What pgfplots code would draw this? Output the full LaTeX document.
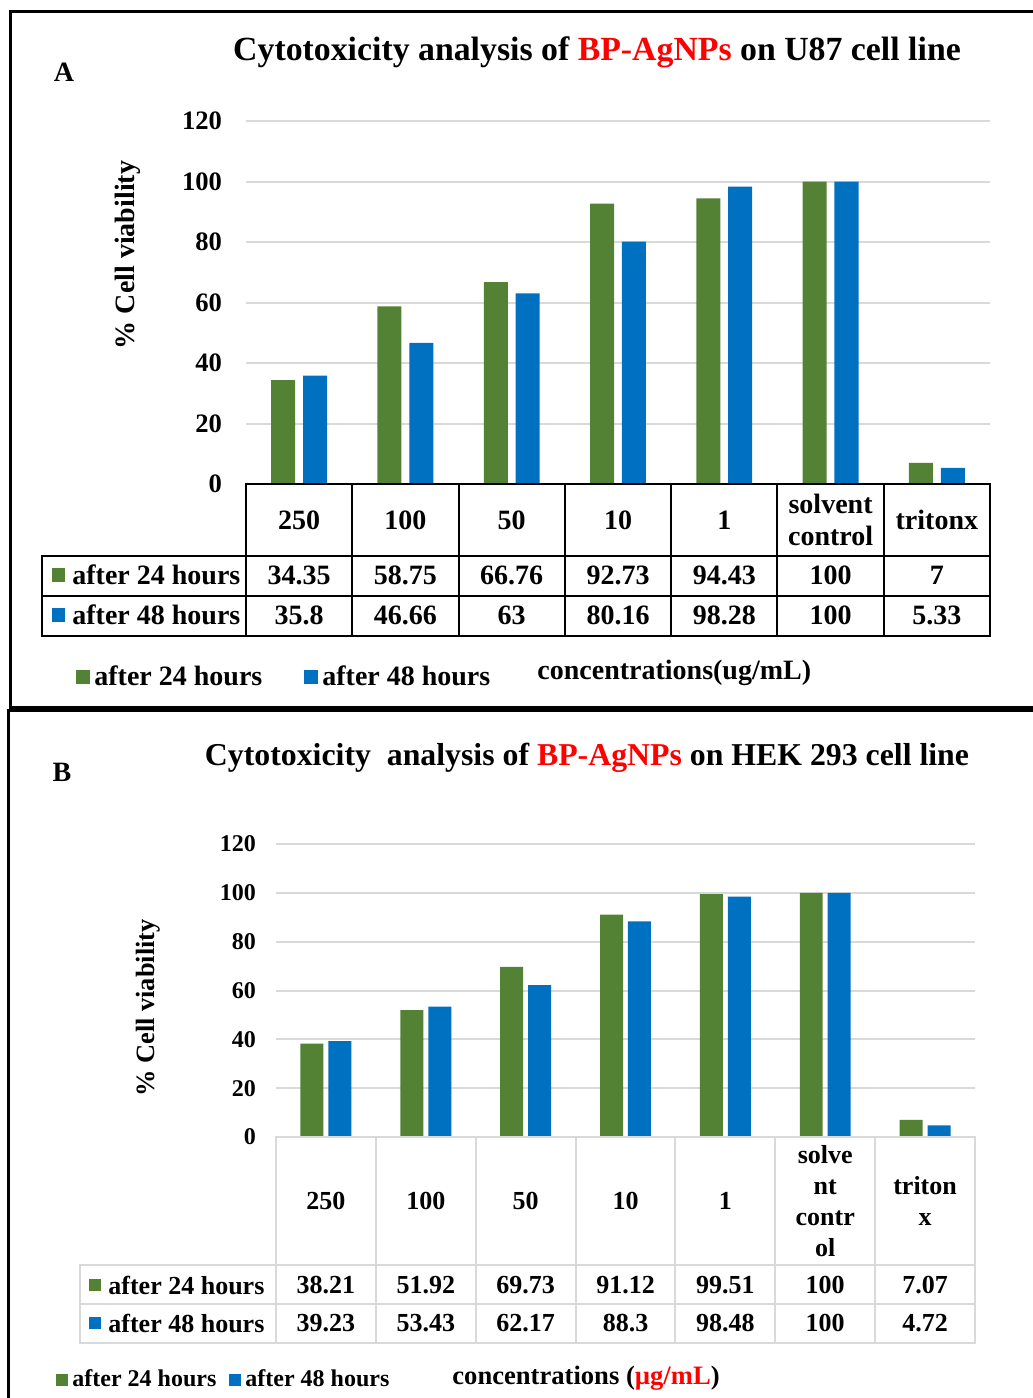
\documentclass[border=0pt]{standalone}
\usepackage{pgfplots}
\usepackage{pgfplotstable}
\pgfplotsset{compat=1.18}
\usepackage{fontspec}
\setmainfont{Liberation Serif}

\definecolor{g24}{HTML}{548235}
\definecolor{b48}{HTML}{0070C0}
\definecolor{gridgray}{HTML}{D9D9D9}
\newcommand{\fs}[2]{\bfseries\fontsize{#1}{#2}\selectfont}

% % cell viability, U87 cell line
\pgfplotstableread{
x g b
0 34.35 35.8
1 58.75 46.66
2 66.76 63
3 92.73 80.16
4 94.43 98.28
5 100 100
6 7 5.33
}\dataA

% % cell viability, HEK 293 cell line
\pgfplotstableread{
x g b
0 38.21 39.23
1 51.92 53.43
2 69.73 62.17
3 91.12 88.3
4 99.51 98.48
5 100 100
6 7.07 4.72
}\dataB

\pgfplotsset{
  panel/.style={
    scale only axis, xmin=-0.5, xmax=6.5, ymin=0, ymax=120,
    ytick={0,20,...,120}, xtick=\empty,
    axis line style={draw=none}, ytick style={draw=none},
    ymajorgrids, major grid style={gridgray, line width=1pt},
    /pgf/number format/assume math mode=true,
  },
}

\begin{document}
\begin{tikzpicture}
\useasboundingbox (0,0) rectangle (516.5pt,-699pt);

% ---------------- panel A ----------------
\begin{axis}[panel, at={(123pt,-242pt)}, anchor=south west,
  width=372pt, height=181.5pt,
  yticklabel style={font=\fs{13.3}{16}, xshift=-8.5pt},
  legend image code/.code={\fill[#1] (0pt,-3.5pt) rectangle (7pt,3.5pt);},
  legend style={at={(axis description cs:-0.2285,-0.5317)}, anchor=west,
    draw=none, fill=none, inner sep=0pt, legend columns=-1,
    font=\fs{14}{16},
    /tikz/every even column/.append style={column sep=19pt}},
]
\addplot[ybar, bar width=0.226, bar shift=-0.15, fill=g24, draw=none] table[x=x,y=g]{\dataA};
\addplot[ybar, bar width=0.226, bar shift=0.15, fill=b48, draw=none] table[x=x,y=b]{\dataA};
\legend{after 24 hours, after 48 hours}
\end{axis}

% ---------------- panel B ----------------
\begin{axis}[panel, at={(138pt,-568.5pt)}, anchor=south west,
  width=349.5pt, height=146.5pt,
  yticklabel style={font=\fs{12}{14}, xshift=-6.5pt},
  legend image code/.code={\fill[#1] (0pt,-3pt) rectangle (6pt,3pt);},
  legend style={at={(axis description cs:-0.3147,-0.8294)}, anchor=west,
    draw=none, fill=none, inner sep=0pt, legend columns=-1,
    font=\fs{12}{14},
    /tikz/every even column/.append style={column sep=4.5pt}},
]
\addplot[ybar, bar width=0.23, bar shift=-0.14, fill=g24, draw=none] table[x=x,y=g]{\dataB};
\addplot[ybar, bar width=0.23, bar shift=0.14, fill=b48, draw=none] table[x=x,y=b]{\dataB};
\legend{after 24 hours, after 48 hours}
\end{axis}

\begin{scope}[x=0.5pt,y=-0.5pt]
  % frames
  \draw[line width=1.5pt] (1040,11) -- (10,11) -- (10,707) -- (1040,707);
  \draw[line width=1.5pt] (1040,710) -- (8,710) -- (8,1405);

  % titles, panel letters, axis titles
  \node[font=\fs{16.9}{20}] at (597,52) {Cytotoxicity analysis of \textcolor{red}{BP-AgNPs} on U87 cell line};
  \node[font=\fs{15.9}{20}] at (587,758) {Cytotoxicity\ \ analysis of \textcolor{red}{BP-AgNPs} on HEK 293 cell line};
  \node[font=\fs{14}{16}] at (64,72) {A};
  \node[font=\fs{14}{16}] at (62,772) {B};
  \node[font=\fs{14}{16}, rotate=90] at (128,255) {\% Cell viability};
  \node[font=\fs{13.2}{15}, rotate=90] at (148,1008) {\% Cell viability};
  \node[font=\fs{14}{16}, anchor=west, inner sep=0pt] at (537,673) {concentrations(ug/mL)};
  \node[font=\fs{13.3}{16}, anchor=west, inner sep=0pt] at (452,1378) {concentrations (\textcolor{red}{µg/mL})};

  % data table A
  \begin{scope}[line width=1pt, line cap=rect]
    \draw (246,484) -- (990,484);
    \foreach \yy in {556,596,636} \draw (42,\yy) -- (990,\yy);
    \draw (42,556) -- (42,636);
    \foreach \i in {0,...,7} \draw ({246+106.286*\i},484) -- ({246+106.286*\i},636);
  \end{scope}
  \fill[g24] (52,568) rectangle (65,582);
  \fill[b48] (52,608) rectangle (65,622);
  \node[font=\fs{14}{16}, anchor=west, inner sep=0pt] at (72,575) {after 24 hours};
  \node[font=\fs{14}{16}, anchor=west, inner sep=0pt] at (72,615) {after 48 hours};
  \foreach \i/\h in {0/250,1/100,2/50,3/10,4/1,5/{solvent\\control},6/tritonx}
    \node[font=\fs{14}{16}, align=center, inner sep=0pt] at ({246+106.286*(\i+0.5)},520) {\h};
  \foreach \i in {0,...,6} {
    \pgfplotstablegetelem{\i}{g}\of\dataA \let\vg\pgfplotsretval
    \pgfplotstablegetelem{\i}{b}\of\dataA \let\vb\pgfplotsretval
    \node[font=\fs{14}{16}, inner sep=0pt] at ({246+106.286*(\i+0.5)},575) {\vg};
    \node[font=\fs{14}{16}, inner sep=0pt] at ({246+106.286*(\i+0.5)},615) {\vb};
  }

  % data table B
  \begin{scope}[line width=1pt, line cap=rect, gridgray]
    \draw (276,1137) -- (975,1137);
    \foreach \yy in {1265,1304,1343} \draw (80,\yy) -- (975,\yy);
    \draw (80,1265) -- (80,1343);
    \foreach \i in {0,...,7} \draw ({276+99.857*\i},1137) -- ({276+99.857*\i},1343);
  \end{scope}
  \fill[g24] (89,1279) rectangle (101,1291);
  \fill[b48] (89,1317) rectangle (101,1329);
  \node[font=\fs{13}{15}, anchor=west, inner sep=0pt] at (108,1285) {after 24 hours};
  \node[font=\fs{13}{15}, anchor=west, inner sep=0pt] at (108,1323) {after 48 hours};
  \foreach \i/\h in {0/250,1/100,2/50,3/10,4/1,5/{solve\\nt\\contr\\ol},6/{triton\\x}}
    \node[font=\fs{13}{15.5}, align=center, inner sep=0pt] at ({276+99.857*(\i+0.5)},1201) {\h};
  \foreach \i in {0,...,6} {
    \pgfplotstablegetelem{\i}{g}\of\dataB \let\vg\pgfplotsretval
    \pgfplotstablegetelem{\i}{b}\of\dataB \let\vb\pgfplotsretval
    \node[font=\fs{13}{15}, inner sep=0pt] at ({276+99.857*(\i+0.5)},1285) {\vg};
    \node[font=\fs{13}{15}, inner sep=0pt] at ({276+99.857*(\i+0.5)},1323) {\vb};
  }
\end{scope}
\end{tikzpicture}
\end{document}
